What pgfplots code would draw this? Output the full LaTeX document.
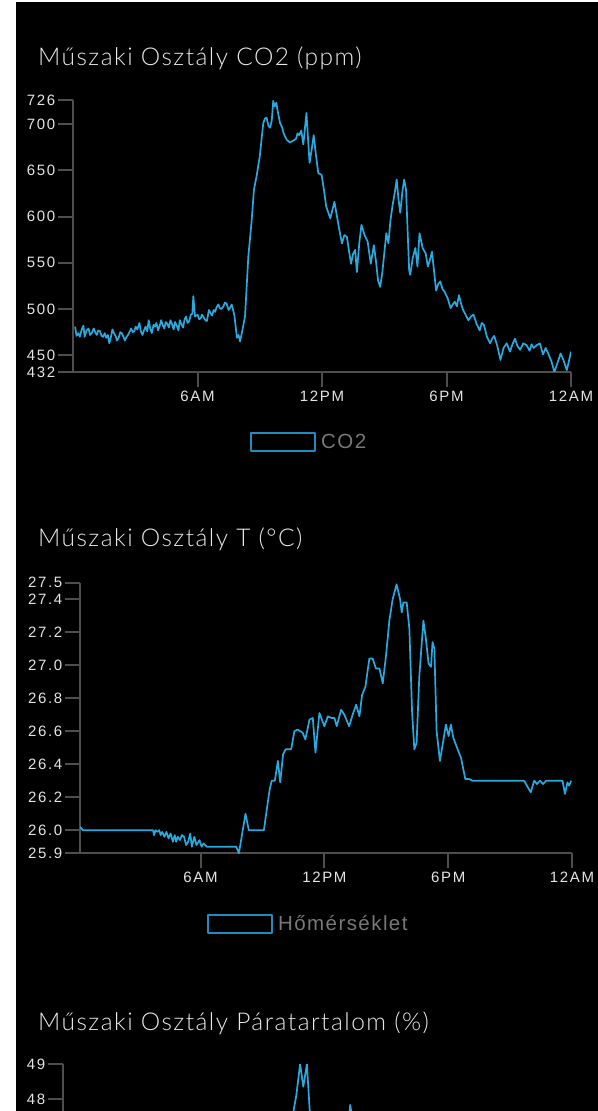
\documentclass[border=0pt]{standalone}
\usepackage{fontspec}
\usepackage{pgfplots}
\pgfplotsset{compat=1.18}
\setmainfont{Liberation Sans}
\newfontfamily\tickfont{Liberation Sans}[LetterSpace=11]
\newfontfamily\legfont{Liberation Sans}[LetterSpace=7]
\IfFontExistsTF{Lato Light}{\newfontfamily\titlefont{Lato Light}[LetterSpace=6]}{\newfontfamily\titlefont{Lato}[LetterSpace=6]}
\definecolor{lineblue}{RGB}{40,170,225}
\definecolor{boxblue}{RGB}{35,140,190}
\definecolor{axisgray}{RGB}{78,78,78}
\definecolor{tickcol}{RGB}{228,228,228}
\definecolor{titlecol}{RGB}{232,232,232}
\definecolor{legcol}{RGB}{120,120,120}
\pgfplotsset{
  chart/.style={
    scale only axis,
    anchor=south west,
    axis lines*=left,
    axis line style={axisgray, line width=2bp},
    tick style={axisgray, line width=2bp},
    major tick length=15bp,
    tick align=outside,
    /pgf/number format/assume math mode=true,
    ticklabel style={font=\tickfont\fontsize{15bp}{17bp}\selectfont, text=tickcol},
    yticklabel style={inner xsep=2.5bp},
    xticklabel style={inner ysep=4bp},
    xtick={6,12,18,24},
    xticklabels={6AM,12PM,6PM,12AM},
    legend image code/.code={\draw[boxblue, line width=2bp, fill=black] (1bp,-9bp) rectangle (65bp,9bp);},
    legend style={draw=none, fill=none, text=legcol, font=\legfont\fontsize{20.5bp}{22bp}\selectfont,
      inner sep=0pt, nodes={inner sep=0pt},
      /tikz/every odd column/.append style={column sep=5bp}},
    legend cell align=left,
  },
  dataline/.style={lineblue, line width=1.7bp, line join=round},
}
\begin{document}
\begin{tikzpicture}
\useasboundingbox (0,0) rectangle (598bp,1111bp);
\fill[white] (0,0) rectangle (598bp,1111bp);
\fill[black] (16bp,0) rectangle (598bp,1109bp);
\clip (0,0) rectangle (598bp,1111bp);

\node[anchor=base west, text=titlecol, font=\titlefont\fontsize{24.5bp}{27bp}\selectfont, inner sep=0pt] at (38bp,1045bp) {Műszaki Osztály CO2 (ppm)};
\node[anchor=base west, text=titlecol, font=\titlefont\fontsize{24.5bp}{27bp}\selectfont, inner sep=0pt] at (38bp,564bp) {Műszaki Osztály T (°C)};
\node[anchor=base west, text=titlecol, font=\titlefont\fontsize{24.5bp}{27bp}\selectfont, inner sep=0pt] at (38bp,80bp) {Műszaki Osztály Páratartalom (\%)};

% CO2
\begin{axis}[chart, at={(73bp,739bp)}, width=498bp, height=272bp,
  xmin=0, xmax=24, ymin=432, ymax=726,
  ytick={432,450,500,550,600,650,700,726},
  yticklabels={432,450,500,550,600,650,700,726},
  legend style={at={(axis description cs:0.3554,-0.2574)}, anchor=west}]
\addplot[dataline] coordinates {
(0.1,481) (0.17,471) (0.25,474) (0.33,470) (0.42,478) (0.5,482) (0.56,470) (0.65,477)
(0.75,479) (0.82,472) (0.9,474) (1.0,479) (1.07,475) (1.15,472) (1.22,477) (1.3,476)
(1.38,471) (1.45,470) (1.53,474) (1.6,469) (1.68,472) (1.75,463) (1.83,470) (1.9,478)
(1.97,474) (2.05,471) (2.12,466) (2.2,469) (2.28,475) (2.35,474) (2.43,470) (2.5,466)
(2.58,470) (2.65,472) (2.72,475) (2.8,479) (2.88,475) (2.95,476) (3.02,481) (3.1,478)
(3.2,485) (3.27,476) (3.35,472) (3.42,477) (3.5,481) (3.58,476) (3.65,488) (3.72,479)
(3.8,474) (3.88,483) (3.95,481) (4.02,485) (4.1,477) (4.18,482) (4.25,488) (4.32,483)
(4.4,479) (4.47,486) (4.55,484) (4.62,480) (4.7,488) (4.77,484) (4.85,478) (4.92,486)
(5.0,482) (5.08,477) (5.15,488) (5.22,484) (5.3,480) (5.38,489) (5.45,492) (5.52,485)
(5.6,487) (5.68,494) (5.75,495) (5.8,514) (5.88,492) (6.0,494) (6.08,489) (6.15,490)
(6.22,494) (6.3,491) (6.38,488) (6.45,487) (6.55,499) (6.62,496) (6.7,493) (6.78,499)
(6.85,497) (6.92,502) (7.0,505) (7.08,501) (7.15,500) (7.25,503) (7.32,507) (7.4,506)
(7.5,499) (7.58,502) (7.65,505) (7.78,493) (7.9,469) (7.98,472) (8.05,465) (8.17,478)
(8.29,492) (8.45,557) (8.6,593) (8.72,629) (8.85,644) (9.0,665) (9.17,701) (9.25,706)
(9.33,707) (9.42,698) (9.5,696) (9.58,704) (9.65,725) (9.72,719) (9.8,723) (9.88,712)
(9.98,701) (10.07,697) (10.15,690) (10.3,683) (10.45,680) (10.6,682) (10.75,684) (10.82,690)
(10.9,688) (11.0,693) (11.1,678) (11.25,712) (11.4,658) (11.5,672) (11.6,688) (11.7,668)
(11.82,647) (11.98,645) (12.1,628) (12.2,611) (12.4,598) (12.6,616) (12.8,590) (12.96,571)
(13.08,580) (13.2,578) (13.3,563) (13.4,549) (13.5,560) (13.6,564) (13.68,540) (13.8,572)
(13.9,591) (14.05,580) (14.2,573) (14.35,549) (14.5,569) (14.6,552) (14.7,531) (14.8,524)
(14.9,538) (15.0,560) (15.1,582) (15.2,571) (15.3,596) (15.4,612) (15.5,625) (15.6,640)
(15.68,620) (15.77,604) (15.88,628) (15.96,640) (16.05,629) (16.2,542) (16.25,537) (16.38,556)
(16.5,566) (16.6,546) (16.7,582) (16.85,566) (17.0,560) (17.1,546) (17.2,553) (17.3,562)
(17.5,520) (17.6,527) (17.7,530) (17.8,522) (17.9,519) (18.05,512) (18.2,501) (18.3,505)
(18.4,508) (18.5,503) (18.6,515) (18.7,506) (18.8,499) (18.92,494) (19.05,488) (19.18,492)
(19.3,494) (19.45,484) (19.6,477) (19.7,485) (19.8,483) (19.95,470) (20.1,463) (20.2,468)
(20.3,471) (20.45,460) (20.6,445) (20.75,458) (20.9,463) (21.06,454) (21.18,462) (21.3,468)
(21.42,460) (21.55,456) (21.7,463) (21.86,461) (22.0,455) (22.1,462) (22.2,458) (22.35,461)
(22.5,463) (22.65,451) (22.78,458) (22.9,452) (23.05,444) (23.2,432) (23.35,442) (23.5,452)
(23.65,444) (23.8,434) (23.9,444) (24.0,454)
};
\addlegendentry{CO2}
\end{axis}

% Temperature
\begin{axis}[chart, at={(80bp,257.7bp)}, width=492bp, height=270.6bp,
  xmin=0.16, xmax=24, ymin=25.86, ymax=27.5,
  ytick={25.86,26.0,26.2,26.4,26.6,26.8,27.0,27.2,27.4,27.5},
  yticklabels={25.9,26.0,26.2,26.4,26.6,26.8,27.0,27.2,27.4,27.5},
  legend style={at={(axis description cs:0.258,-0.26)}, anchor=west}]
\addplot[dataline] coordinates {
(0.16,26.02) (0.3,26.0) (3.7,26.0) (3.75,25.97) (3.82,26.0) (3.9,25.99) (4.0,26.0) (4.07,25.97)
(4.15,25.99) (4.25,25.96) (4.35,25.99) (4.45,25.95) (4.55,25.98) (4.66,25.93) (4.75,25.97) (4.82,25.93)
(4.9,25.96) (5.0,25.94) (5.1,25.97) (5.2,25.96) (5.3,25.91) (5.4,25.93) (5.5,25.98) (5.58,25.9)
(5.7,25.96) (5.8,25.91) (5.95,25.94) (6.05,25.9) (6.15,25.92) (6.3,25.9) (7.73,25.9) (7.86,25.86)
(8.18,26.1) (8.34,26.0) (9.07,26.0) (9.34,26.24) (9.45,26.3) (9.6,26.3) (9.75,26.42) (9.86,26.29)
(10.0,26.46) (10.12,26.49) (10.39,26.49) (10.55,26.6) (10.71,26.61) (10.95,26.59) (11.08,26.55) (11.28,26.67)
(11.44,26.68) (11.57,26.47) (11.76,26.71) (12.0,26.63) (12.17,26.69) (12.35,26.68) (12.49,26.68) (12.6,26.63)
(12.81,26.73) (12.97,26.70) (13.2,26.63) (13.37,26.70) (13.54,26.76) (13.7,26.69) (13.83,26.82) (13.99,26.87)
(14.18,27.04) (14.34,27.04) (14.5,26.98) (14.67,26.98) (14.83,26.89) (14.99,27.06) (15.15,27.27) (15.31,27.40)
(15.5,27.49) (15.67,27.40) (15.75,27.32) (15.83,27.38) (15.99,27.38) (16.12,27.22) (16.25,26.72) (16.36,26.49)
(16.47,26.53) (16.6,26.93) (16.8,27.27) (16.92,27.16) (17.05,27.01) (17.17,26.99) (17.24,27.14) (17.33,27.1)
(17.44,26.6) (17.6,26.42) (17.76,26.54) (17.89,26.64) (18.02,26.57) (18.13,26.64) (18.25,26.56) (18.46,26.49)
(18.62,26.44) (18.83,26.31) (19.02,26.31) (19.18,26.30) (21.68,26.30) (22.0,26.23) (22.17,26.30) (22.3,26.28)
(22.45,26.30) (22.6,26.28) (22.75,26.30) (23.54,26.30) (23.66,26.22) (23.78,26.29) (23.86,26.27) (23.96,26.30)
};
\addlegendentry{Hőmérséklet}
\end{axis}

% Humidity (cut off at the bottom of the picture)
\begin{axis}[chart, at={(63bp,-198bp)}, width=509bp, height=245bp,
  xmin=0, xmax=24, ymin=42, ymax=49,
  xtick=\empty,
  ytick={48,49},
  yticklabels={48,49}]
\addplot[dataline] coordinates {
(0,45.6) (2,45.5) (4,45.4) (6,45.5) (8,45.6) (9,46.0) (10,46.4) (10.5,46.8) (10.85,47.6)
(11.0,48.1) (11.18,49.0) (11.33,48.35) (11.5,49.0) (11.65,47.5) (11.9,46.6) (12.5,46.5)
(13.2,46.6) (13.42,46.9) (13.54,47.83) (13.62,47.55) (13.72,46.6) (14.5,46.5) (16,46.4)
(18,46.2) (20,46.0) (22,45.9) (24,45.8)
};
\end{axis}
\end{tikzpicture}
\end{document}
